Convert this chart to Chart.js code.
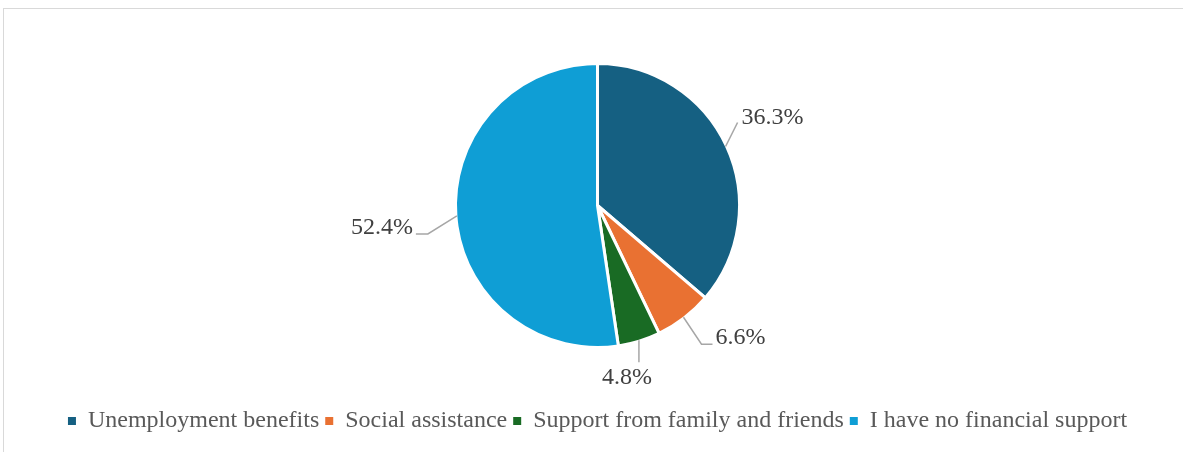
<!DOCTYPE html>
<html>
<head>
<meta charset="utf-8">
<script src="https://cdn.jsdelivr.net/npm/chart.js@4"></script>
<style>
    body { margin: 0; background: #fff; }
    #wrap { position: absolute; left: 0; top: 0; width: 1183px; height: 452px; }
    #frame { position: absolute; left: 3px; top: 8px; width: 1200px; height: 460px;
             border-top: 1.5px solid #d9d9d9; border-left: 1.5px solid #d9d9d9; }
</style>
</head>
<body>
<div id="frame"></div>
<div id="wrap"><canvas id="pieChart"></canvas></div>
<script>
// Chart data
const categories = ['Unemployment benefits', 'Social assistance', 'Support from family and friends', 'I have no financial support'];
const shares = [36.3, 6.6, 4.8, 52.4];
const sliceColors = ['#156082', '#E97132', '#196B24', '#0F9ED5'];

// Leader line layout for each label (offsets from the slice edge)
const leaderLayout = [
    { ex: 12, ey: -24, tail: 0, tx: 4, ty: -5, align: 'left' },
    { ex: 18, ey: 27, tail: 11, tx: 3, ty: -7, align: 'left' },
    { ex: 0, ey: 22, tail: 0, tx: -12, ty: 15, align: 'center' },
    { ex: -29, ey: 18, tail: -12, tx: -3, ty: -6, align: 'right' }
];

const leaderLabels = {
    id: 'leaderLabels',
    afterDatasetsDraw(chart) {
        const ctx = chart.ctx;
        const meta = chart.getDatasetMeta(0);
        ctx.save();
        meta.data.forEach((arc, i) => {
            const p = arc.getProps(['x', 'y', 'startAngle', 'endAngle', 'outerRadius'], true);
            const mid = (p.startAngle + p.endAngle) / 2;
            const r = p.outerRadius - 1;
            const sx = p.x + Math.cos(mid) * r;
            const sy = p.y + Math.sin(mid) * r;
            const lay = leaderLayout[i];
            const bx = sx + lay.ex;
            const by = sy + lay.ey;
            const tx = bx + lay.tail;

            ctx.strokeStyle = '#a6a6a6';
            ctx.lineWidth = 1.5;
            ctx.beginPath();
            ctx.moveTo(sx, sy);
            ctx.lineTo(bx, by);
            if (lay.tail) ctx.lineTo(tx, by);
            ctx.stroke();

            ctx.fillStyle = '#404040';
            ctx.font = '24px "Liberation Serif", "Times New Roman", serif';
            ctx.textAlign = lay.align;
            ctx.textBaseline = 'middle';
            ctx.fillText(shares[i].toFixed(1) + '%', tx + lay.tx, by + lay.ty);
        });
        ctx.restore();
    }
};

const ctx = document.getElementById('pieChart').getContext('2d');
new Chart(ctx, {
    type: 'pie',
    data: {
        labels: categories,
        datasets: [{
            data: shares,
            backgroundColor: sliceColors,
            borderColor: '#ffffff',
            borderWidth: 3,
            radius: 142
        }]
    },
    options: {
        responsive: true,
        maintainAspectRatio: false,
        animation: false,
        layout: { padding: { top: 8, bottom: 9, left: 12, right: 0 } },
        plugins: {
            tooltip: { enabled: false },
            legend: {
                position: 'bottom',
                labels: {
                    boxWidth: 8,
                    boxHeight: 8,
                    padding: 6,
                    color: '#595959',
                    font: { family: '"Liberation Serif", "Times New Roman", serif', size: 24 },
                    generateLabels(chart) {
                        const items = Chart.overrides.pie.plugins.legend.labels.generateLabels(chart);
                        items.forEach(item => {
                            item.lineWidth = 0;
                            item.strokeStyle = item.fillStyle;
                        });
                        return items;
                    }
                }
            }
        }
    },
    plugins: [leaderLabels]
});
</script>
</body>
</html>
